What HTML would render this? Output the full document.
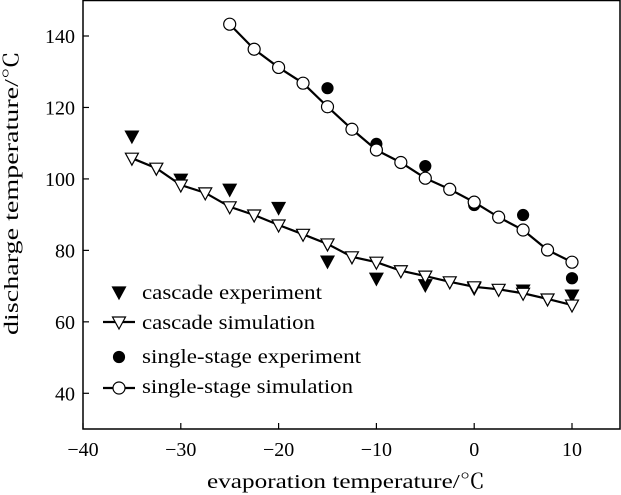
<!DOCTYPE html>
<html><head><meta charset="utf-8"><style>
body{margin:0;background:#fff}
svg{display:block;font-family:"Liberation Serif","Noto Serif CJK SC",serif}
</style></head><body>
<svg id="chart" width="621" height="495" viewBox="0 0 621 495">
<rect x="83" y="0.5" width="537" height="428.5" fill="none" stroke="#000" stroke-width="1.5"/>
<g id="ticks"></g>
<g id="series"></g>
<text x="346" y="488" text-anchor="middle" font-size="20" textLength="278" lengthAdjust="spacingAndGlyphs">evaporation temperature/℃</text>
<text transform="translate(18,193) rotate(-90)" text-anchor="middle" font-size="20" textLength="284" lengthAdjust="spacingAndGlyphs">discharge temperature/℃</text>
<g id="legend"></g>
</svg>
<script>
const xTicks=[-40,-30,-20,-10,0,10];
const yTicks=[40,60,80,100,120,140];
const cascadeSimX=[-35,-32.5,-30,-27.5,-25,-22.5,-20,-17.5,-15,-12.5,-10,-7.5,-5,-2.5,0,2.5,5,7.5,10];
const cascadeSimY=[105.8,103,98.3,96.1,92.2,89.9,87.1,84.5,81.8,78.2,76.7,74.3,72.8,71.2,69.8,69.1,68,66.4,64.7];
const cascadeExpX=[-35,-30,-25,-20,-15,-10,-5,0,5,10];
const cascadeExpY=[112,99.9,97.1,92,77,72.2,70.4,69.5,68.9,67.5];
const singleSimX=[-25,-22.5,-20,-17.5,-15,-12.5,-10,-7.5,-5,-2.5,0,2.5,5,7.5,10];
const singleSimY=[143.3,136.3,131.2,126.8,120.2,113.9,108.1,104.6,100.2,97.1,93.5,89.3,85.7,80.1,76.7];
const singleExpX=[-15,-10,-5,0,5,10];
const singleExpY=[125.4,109.8,103.6,92.7,89.9,72.2];

const NS="http://www.w3.org/2000/svg";
const sx=v=>83+(v+40)*9.78;
const sy=v=>36+(140-v)*3.573;
function mk(tag,attrs,parent){const e=document.createElementNS(NS,tag);for(const k in attrs)e.setAttribute(k,attrs[k]);parent.appendChild(e);return e;}
const T=document.getElementById('ticks');
xTicks.forEach(v=>{
  const l=mk('line',{x1:sx(v),x2:sx(v),y1:429,y2:423,stroke:'#000','stroke-width':1.2},T);
  
  
  const t=mk('text',{x:sx(v),y:456,'text-anchor':'middle','font-size':20},T);
  t.textContent=(v<0?'\u2212'+(-v):String(v));
  
  
});
yTicks.forEach(v=>{
  const l=mk('line',{x1:83,x2:89,y1:sy(v),y2:sy(v),stroke:'#000','stroke-width':1.2},T);
  
  
  const t=mk('text',{x:75,y:sy(v)+7,'text-anchor':'end','font-size':20},T);
  t.textContent=v;
  
  
});
const S=document.getElementById('series');
function tri(x,y,filled,p,name){
  const e=mk('path',{d:`M${x-6.5},${y-5} L${x+6.5},${y-5} L${x},${y+7} Z`,fill:filled?'#000':'#fff',stroke:'#000','stroke-width':1.2},p);
  
  
}
function circ(x,y,filled,p,name){
  const e=mk('circle',{cx:x,cy:y,r:filled?5.5:6,fill:filled?'#000':'#fff',stroke:'#000','stroke-width':1.2},p);
  
  
}
cascadeExpX.forEach((x,i)=>tri(sx(x),sy(cascadeExpY[i]),true,S,'cascade-experiment-point'));
singleExpX.forEach((x,i)=>circ(sx(x),sy(singleExpY[i]),true,S,'single-stage-experiment-point'));
const l1=mk('polyline',{points:cascadeSimX.map((x,i)=>sx(x)+','+sy(cascadeSimY[i])).join(' '),fill:'none',stroke:'#000','stroke-width':2.2},S);


cascadeSimX.forEach((x,i)=>tri(sx(x),sy(cascadeSimY[i]),false,S,'cascade-simulation-point'));
const l2=mk('polyline',{points:singleSimX.map((x,i)=>sx(x)+','+sy(singleSimY[i])).join(' '),fill:'none',stroke:'#000','stroke-width':2.2},S);


singleSimX.forEach((x,i)=>circ(sx(x),sy(singleSimY[i]),false,S,'single-stage-simulation-point'));

const L=document.getElementById('legend');
function ltext(y,s,w){const t=mk('text',{x:142,y:y+7,'font-size':20,textLength:w,lengthAdjust:'spacingAndGlyphs'},L);t.textContent=s;}
function lline(y,name){const e=mk('line',{x1:103,x2:135,y1:y,y2:y,stroke:'#000','stroke-width':2.2},L);}
tri(119,292,true,L,'legend-cascade-experiment-marker');ltext(292,'cascade experiment',180);
lline(322,'legend-cascade-simulation-line');tri(119,322,false,L,'legend-cascade-simulation-marker');ltext(322,'cascade simulation',173);
circ(119,357,true,L,'legend-single-stage-experiment-marker');ltext(356,'single-stage experiment',219);
lline(388,'legend-single-stage-simulation-line');circ(119,388,false,L,'legend-single-stage-simulation-marker');ltext(386,'single-stage simulation',211);
</script>
</body></html>
